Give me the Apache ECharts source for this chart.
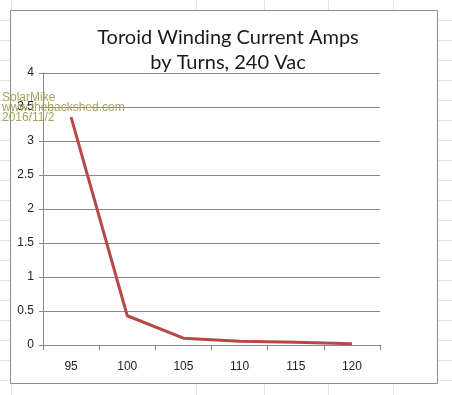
<!DOCTYPE html>
<html><head><meta charset="utf-8">
<script src="https://cdn.jsdelivr.net/npm/echarts@6/dist/echarts.min.js"></script>
<style>
html,body{margin:0;padding:0;background:#fff;}
#c{width:452px;height:395px;}
</style></head>
<body><div id="c"></div>
<script>
const categories = ['95','100','105','110','115','120'];
const amps = [3.35, 0.43, 0.10, 0.055, 0.04, 0.02];
const titleLines = ['Toroid Winding Current Amps', 'by Turns, 240 Vac'];
const watermark = ['SolarMike', 'www.thebackshed.com', '2016/11/2'];

const chart = echarts.init(document.getElementById('c'), null, {renderer:'canvas'});

// spreadsheet background lines
const bg = [];
for (let y = 20; y < 395; y += 20) {
  bg.push({type:'line', silent:true, z:-10, shape:{x1:0,y1:y+0.5,x2:452,y2:y+0.5}, style:{stroke:'#e2e2e2', lineWidth:1}});
}
[11,196,264,328,393].forEach(x => bg.push({type:'line', silent:true, z:-10, shape:{x1:x+0.5,y1:0,x2:x+0.5,y2:395}, style:{stroke:'#e2e2e2', lineWidth:1}}));
bg.push({type:'rect', silent:true, z:-5, shape:{x:10.5,y:10.5,width:427,height:373}, style:{fill:'#fff', stroke:'#8c8c8c', lineWidth:1}});

chart.setOption({
  animation:false,
  backgroundColor:'#fff',
  title:{
    text: titleLines.join('\n'),
    left: 223, top: 20, textAlign:'center',
    textStyle:{fontFamily:'Lato', fontWeight:'normal', fontSize:20, lineHeight:25, color:'#1a1a1a'}
  },
  graphic: bg.concat([
    {type:'text', left:2, top:92, z:100, style:{text: watermark.join('\n'), fill:'#aaa25c', font:'12px "Liberation Sans"', lineHeight:10}}
  ]),
  grid:{left:43, right:72, top:73, bottom:50, containLabel:false},
  xAxis:{
    type:'category', data:categories, boundaryGap:true,
    axisLine:{lineStyle:{color:'#888', width:1}},
    axisTick:{show:true, length:5, lineStyle:{color:'#888'}},
    axisLabel:{color:'#222', fontSize:12, fontFamily:'Liberation Sans', margin:16}
  },
  yAxis:{
    type:'value', min:0, max:4, interval:0.5,
    axisLine:{show:true, lineStyle:{color:'#888', width:1}},
    axisTick:{show:true, length:4, lineStyle:{color:'#888'}},
    axisLabel:{color:'#222', fontSize:12, fontFamily:'Liberation Sans', margin:9},
    splitLine:{lineStyle:{color:'#888', width:1}}
  },
  series:[{
    type:'line', data:amps, symbol:'none',
    lineStyle:{color:'#b8474a', width:3},
    itemStyle:{color:'#b8474a'}
  }]
});
</script></body></html>
